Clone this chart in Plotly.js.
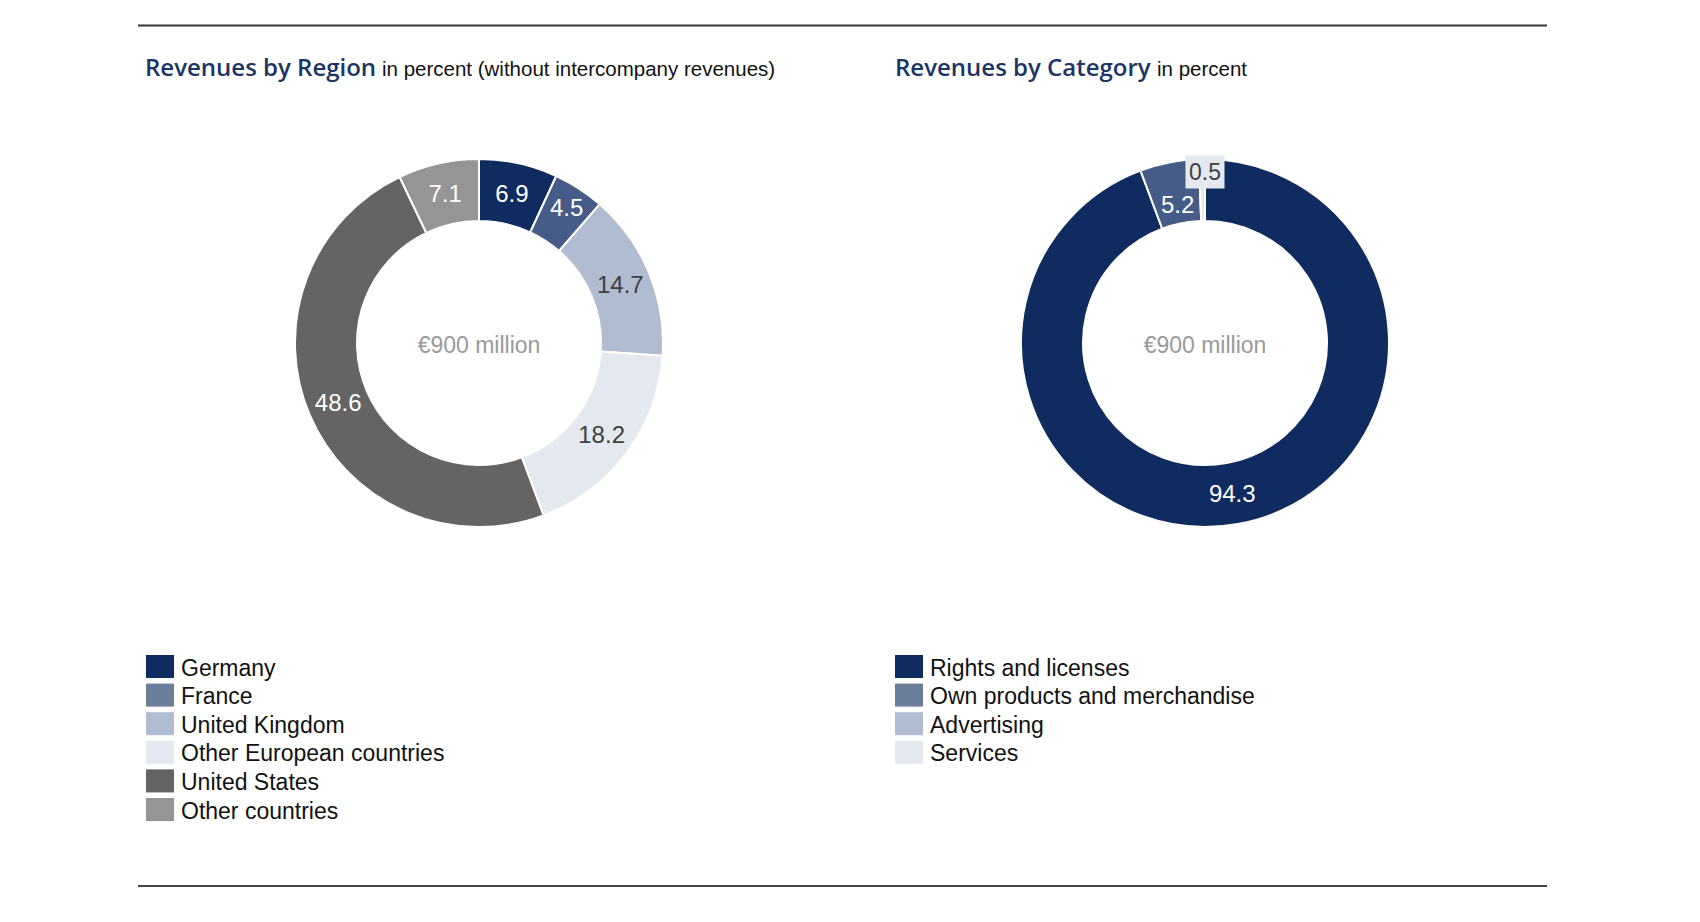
<!DOCTYPE html>
<html>
<head>
<meta charset="utf-8">
<script src="https://cdn.plot.ly/plotly-3.0.1.min.js"></script>
<style>html,body{margin:0;padding:0;background:#fff;}#chart{width:1700px;height:922px;}</style>
</head>
<body>
<div id="chart"></div>
<script>
// ---- data ----
const regionLabels = ["Germany", "France", "United Kingdom", "Other European countries", "United States", "Other countries"];
const regionValues = [6.9, 4.5, 14.7, 18.2, 48.6, 7.1];
const categoryLabels = ["Rights and licenses", "Own products and merchandise", "Advertising", "Services"];
const categoryValues = [94.3, 5.2, 0, 0.5];
const centerText = "€900 million";

// ---- styles ----
const W = 1700, H = 922;
const regionSliceColors = ["#0f2b5f", "#475b88", "#b0bccf", "#e4e9f0", "#646464", "#959595"];
const regionLegendColors = ["#0f2b5f", "#6a7e9a", "#b0bccf", "#e4e9f0", "#646464", "#959595"];
const regionTextColors = ["#ffffff", "#ffffff", "#404040", "#404040", "#ffffff", "#ffffff"];
const categorySliceColors = ["#0f2b5f", "#475b88", "#b0bccf", "#e4e9f0"];
const categoryLegendColors = ["#0f2b5f", "#6a7e9a", "#b0bccf", "#e4e9f0"];
const categoryTextColors = ["#ffffff", "#ffffff", "#404040", "#404040"];

const px = x => x / W;
const py = y => 1 - y / H;
const R = 184, HOLE = 0.663;
const leftC = [479, 343], rightC = [1205, 343];
const labelFamily = "Liberation Sans, Arial, sans-serif";

function dom(c) {
  return { x: [px(c[0] - R), px(c[0] + R)], y: [py(c[1] + R), py(c[1] - R)] };
}

// minValueInside: slices below this get their label as an annotation instead
function pieTrace(labels, values, colors, textColors, c, minValueInside) {
  return {
    type: "pie",
    labels: labels,
    values: values,
    text: values.map(v => (v >= minValueInside ? v.toFixed(1) : "")),
    textinfo: "text",
    textposition: "inside",
    insidetextorientation: "horizontal",
    insidetextfont: { family: labelFamily, size: 24, color: textColors },
    sort: false,
    direction: "clockwise",
    rotation: 0,
    hole: HOLE,
    marker: { colors: colors, line: { color: "#ffffff", width: 2 } },
    domain: dom(c),
    showlegend: false,
    hoverinfo: "label+value",
    title: { text: centerText, position: "middle center", font: { family: labelFamily, size: 23, color: "#9a9a9a" } }
  };
}

const traces = [
  pieTrace(regionLabels, regionValues, regionSliceColors, regionTextColors, leftC, 1),
  pieTrace(categoryLabels, categoryValues, categorySliceColors, categoryTextColors, rightC, 10)
];

const shapes = [
  { type: "line", xref: "paper", yref: "paper", x0: px(138), x1: px(1547), y0: py(25.5), y1: py(25.5), line: { color: "#333333", width: 2 } },
  { type: "line", xref: "paper", yref: "paper", x0: px(138), x1: px(1547), y0: py(886), y1: py(886), line: { color: "#444444", width: 2 } }
];
const annotations = [];

const titleFont = { family: "Open Sans, Noto Sans, sans-serif", size: 24, color: "#1b3566", weight: 600 };
const subFont = { family: labelFamily, size: 20.5, color: "#111111" };
function addText(text, x, y, font, xanchor) {
  annotations.push({ text: text, x: px(x), y: py(y), xref: "paper", yref: "paper", xanchor: xanchor || "left", yanchor: "middle", showarrow: false, font: font });
}
addText("Revenues by Region", 143, 66, titleFont);
addText("in percent (without intercompany revenues)", 380, 68, subFont);
addText("Revenues by Category", 893, 66, titleFont);
addText("in percent", 1155, 68, subFont);

// legends
function legend(labels, colors, x0) {
  const legFont = { family: labelFamily, size: 23, color: "#111111" };
  labels.forEach((lab, i) => {
    const cy = 666.5 + i * 28.6;
    shapes.push({ type: "rect", xref: "paper", yref: "paper", x0: px(x0), x1: px(x0 + 28), y0: py(cy - 11.5), y1: py(cy + 11.5), fillcolor: colors[i], line: { width: 0 } });
    addText(lab, x0 + 33, cy + 1, legFont);
  });
}
legend(regionLabels, regionLegendColors, 146);
legend(categoryLabels, categoryLegendColors, 895);

// labels of the thin category slices, placed at the slice's mid-angle (computed from the data)
(function () {
  const total = categoryValues.reduce((a, b) => a + b, 0);
  let cum = 0;
  categoryValues.forEach((v, i) => {
    if (v > 0 && v < 10) {
      const ang = (cum + v / 2) / total * 2 * Math.PI;
      const boxed = v < 1;
      const r = boxed ? 171 : 141;
      const x = rightC[0] + r * Math.sin(ang) + (boxed ? 3 : 0);
      const y = rightC[1] - r * Math.cos(ang);
      const a = { text: v.toFixed(1), x: px(x), y: py(y), xref: "paper", yref: "paper", xanchor: "center", yanchor: "middle", showarrow: false,
        font: { family: labelFamily, size: boxed ? 23 : 24, color: categoryTextColors[i] } };
      if (boxed) { a.bgcolor = categorySliceColors[i]; a.borderpad = 3; }
      annotations.push(a);
    }
    cum += v;
  });
})();

const layout = {
  width: W, height: H,
  margin: { l: 0, r: 0, t: 0, b: 0 },
  paper_bgcolor: "#ffffff",
  showlegend: false,
  shapes: shapes,
  annotations: annotations
};
Plotly.newPlot("chart", traces, layout, { displayModeBar: false, staticPlot: true });
</script>
</body>
</html>
